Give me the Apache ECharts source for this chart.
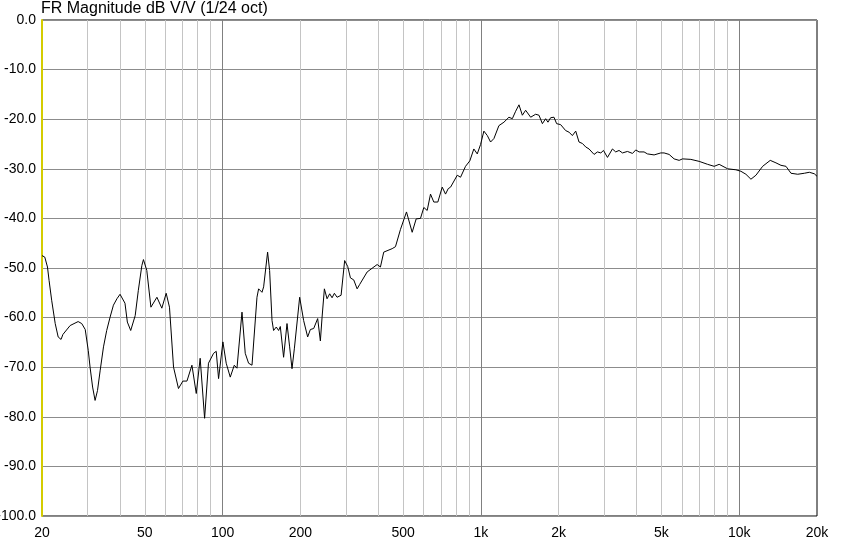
<!DOCTYPE html>
<html><head><meta charset="utf-8">
<script src="https://cdn.jsdelivr.net/npm/echarts@6/dist/echarts.min.js"></script>
<style>html,body{margin:0;padding:0;background:#fff}#c{width:845px;height:547px}</style>
</head><body><div id="c"></div>
<script>
const chartTitle = 'FR Magnitude dB V/V (1/24 oct)';

const freqHz = [20,20.5,21.0,21.3,21.8,22.5,23.1,23.7,24.1,25.7,27.6,28.5,29.4,30.2,30.7,31.4,32.1,32.8,33.6,34.6,35.6,36.7,37.8,39.0,40.1,41.9,42.8,44.1,45.9,47.2,48.7,49.4,50.9,52.8,55.7,58.2,60.5,62.3,64.6,67.5,70.2,72.8,76.1,79.1,81.9,85.2,88.2,92.3,94.5,96.5,100.3,103.3,107.1,111.0,113.7,118.9,122.4,126.1,130.0,135.9,137.9,142.1,144.2,149.4,152.1,155.4,157.6,161.4,164.8,167.3,172.3,177.6,181.8,185.7,189.6,193.0,198.8,206.0,213.5,218.7,225.3,233.4,239.1,242.8,247.8,253.8,259.8,265.4,270.9,277.5,287.6,296.9,305.1,312.6,321.9,331.8,339.6,362.8,396.6,408.4,420.6,453.4,467.0,488.4,515.2,542.0,561.6,583.6,601.2,619.6,638.2,657.2,681.2,708.4,729.6,747.4,763.0,810,834,872,906,939,968,997,1027,1059,1090,1123,1174,1228,1284,1323,1363,1404,1447,1490,1558,1629,1678,1730,1781,1818,1862,1918,1964,2036,2129,2192,2260,2328,2398,2472,2546,2622,2742,2826,2912,2982,3090,3230,3326,3426,3532,3692,3862,3976,4096,4282,4414,4682,4970,5118,5352,5596,5852,6032,6496,6998,7544,7998,8362,9016,9706,10150,10614,11098,11604,12320,13184,13872,14506,15168,15860,16840,17864,18678,19522,20000];

const magDb = [-47.5,-47.8,-49.8,-52.5,-56.5,-61.2,-63.9,-64.4,-63.4,-61.6,-60.8,-61.2,-62.4,-66.6,-70.0,-74.0,-76.7,-74.7,-70.6,-65.9,-62.6,-59.9,-57.5,-56.2,-55.3,-57.1,-60.9,-62.6,-59.6,-54.5,-49.5,-48.3,-50.5,-57.9,-55.9,-58.1,-55.1,-57.9,-70.0,-74.3,-72.8,-72.8,-69.6,-75.3,-68.2,-80.3,-69.2,-67.2,-66.8,-72.3,-64.9,-69.2,-72.0,-69.6,-70.2,-58.9,-67.2,-69.2,-69.6,-55.9,-54.2,-54.9,-53.8,-46.8,-50.5,-60.6,-62.6,-61.9,-62.6,-61.8,-68.0,-61.2,-65.9,-70.3,-66.3,-66.5,-55.9,-60.6,-63.9,-62.4,-62.2,-60.2,-64.7,-59.9,-54.2,-56.2,-55.2,-56.0,-55.1,-55.9,-55.5,-48.5,-49.7,-52.0,-52.4,-54.2,-53.3,-50.8,-49.3,-49.8,-46.8,-46.1,-45.7,-42.2,-38.7,-42.8,-40.1,-40.0,-37.8,-38.4,-35.1,-36.7,-36.7,-33.7,-35.1,-34.0,-33.7,-31.3,-31.7,-29.5,-28.4,-26.0,-27.0,-25.1,-22.4,-23.3,-24.6,-23.9,-21.3,-20.6,-19.6,-19.9,-18.4,-17.1,-19.2,-18.2,-19.6,-19.0,-19.2,-20.9,-19.9,-20.6,-19.7,-19.6,-20.9,-21.1,-22.3,-22.6,-23.3,-22.4,-24.6,-24.9,-25.6,-26.0,-27.1,-26.6,-26.8,-26.3,-27.7,-26.0,-26.6,-26.3,-26.8,-26.5,-26.9,-26.2,-26.6,-26.6,-27.0,-27.2,-26.8,-26.8,-27.1,-28.0,-28.3,-28.0,-28.1,-28.5,-29.1,-29.5,-29.1,-30.0,-30.2,-30.5,-31.1,-32.1,-31.3,-29.5,-28.3,-28.8,-29.3,-29.5,-30.9,-31.1,-30.9,-30.7,-31.0,-31.5];

const xLabelFreqs = [20,50,100,200,500,1000,2000,5000,10000,20000];
const minorGridFreqs = [30,40,50,60,70,80,90,200,300,400,500,600,700,800,900,2000,3000,4000,5000,6000,7000,8000,9000];
const majorGridFreqs = [100,1000,10000];
const yMin = -100, yMax = 0, yStep = 10;

const lg = Math.log10;
const fmtFreq = v => {
  const f = Math.round(Math.pow(10, v));
  return f >= 1000 ? (f / 1000) + 'k' : String(f);
};
const font = 'Liberation Sans, Arial, sans-serif';
const xMin = lg(20), xMax = lg(20000);

const chart = echarts.init(document.getElementById('c'), null, {renderer: 'canvas'});
chart.setOption({
  animation: false,
  backgroundColor: '#ffffff',
  title: {
    text: chartTitle, left: 41, top: 0, padding: 0,
    textStyle: {fontFamily: font, fontSize: 16, fontWeight: 'normal', color: '#000', lineHeight: 17}
  },
  grid: {left: 42, right: 28, top: 20, bottom: 31, show: true, borderColor: '#000', borderWidth: 1, backgroundColor: '#fff', containLabel: false, outerBoundsMode: 'none'},
  xAxis: [
    {
      type: 'value', min: xMin, max: xMax, gridIndex: 0,
      axisLine: {show: false},
      axisTick: {show: false, customValues: minorGridFreqs.map(lg)},
      axisLabel: {customValues: xLabelFreqs.map(lg), formatter: fmtFreq, color: '#000', fontFamily: font, fontSize: 14, margin: 10, showMinLabel: true, showMaxLabel: true},
      splitLine: {show: true, lineStyle: {color: '#c4c4c4', width: 1}}
    },
    {
      type: 'value', min: xMin, max: xMax, gridIndex: 0, position: 'bottom',
      axisLine: {show: false},
      axisTick: {show: false, customValues: majorGridFreqs.map(lg)},
      axisLabel: {show: false},
      splitLine: {show: true, lineStyle: {color: '#808080', width: 1}}
    }
  ],
  yAxis: {
    type: 'value', min: yMin, max: yMax, interval: yStep,
    axisLine: {show: true, lineStyle: {color: '#d4cc00', width: 2}},
    axisTick: {show: false},
    axisLabel: {formatter: v => v.toFixed(1), color: '#000', fontFamily: font, fontSize: 14, margin: 6},
    splitLine: {show: true, lineStyle: {color: '#8c8c8c', width: 1}}
  },
  series: [{
    type: 'line', xAxisIndex: 0, yAxisIndex: 0,
    data: freqHz.map((f, i) => [lg(f), magDb[i]]),
    showSymbol: false, symbol: 'none',
    lineStyle: {color: '#000', width: 1},
    z: 5
  }]
});
</script></body></html>
